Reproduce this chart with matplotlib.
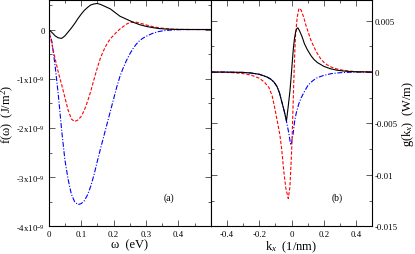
import matplotlib
matplotlib.use("Agg")
import matplotlib.pyplot as plt
from matplotlib.ticker import MultipleLocator, FixedLocator, FixedFormatter

plt.rcParams['font.family'] = ['Liberation Serif', 'DejaVu Serif']
plt.rcParams['mathtext.fontset'] = 'custom'
plt.rcParams['mathtext.rm'] = 'Liberation Serif'
plt.rcParams['mathtext.it'] = 'Liberation Serif:italic'
plt.rcParams['axes.unicode_minus'] = False

# ---- panel (a): f(omega), units 1e-9 J/m^2 ----
w_black = [0, 0.01, 0.02, 0.03, 0.04, 0.05, 0.06, 0.07, 0.08, 0.09, 0.10, 0.11, 0.12, 0.13,
           0.14, 0.15, 0.16, 0.17, 0.18, 0.19, 0.20, 0.21, 0.22, 0.23, 0.24, 0.25, 0.26,
           0.28, 0.30, 0.32, 0.34, 0.36, 0.38, 0.40, 0.45, 0.50]
f_black = [0, -0.06, -0.13, -0.17, -0.18, -0.13, -0.05, 0.03, 0.12, 0.22, 0.31, 0.39, 0.45, 0.50,
           0.52, 0.53, 0.51, 0.48, 0.45, 0.42, 0.37, 0.32, 0.27, 0.24, 0.21, 0.18, 0.15,
           0.10, 0.065, 0.04, 0.02, 0.01, 0.005, 0.002, 0, 0]

w_red = [0, 0.01, 0.02, 0.03, 0.04, 0.05, 0.06, 0.07, 0.08, 0.09, 0.10, 0.11, 0.12, 0.13,
         0.14, 0.15, 0.16, 0.17, 0.18, 0.19, 0.20, 0.21, 0.22, 0.23, 0.24, 0.25, 0.26, 0.27,
         0.28, 0.29, 0.30, 0.32, 0.34, 0.36, 0.38, 0.40, 0.45, 0.50]
f_red = [0, -0.30, -0.60, -0.88, -1.12, -1.38, -1.64, -1.82, -1.87, -1.84, -1.77, -1.64, -1.46, -1.25,
         -1.01, -0.78, -0.57, -0.42, -0.29, -0.19, -0.12, -0.05, 0.01, 0.06, 0.11, 0.14, 0.15, 0.15,
         0.13, 0.115, 0.095, 0.06, 0.035, 0.02, 0.008, 0.003, 0, 0]

w_blue = [0, 0.01, 0.02, 0.03, 0.04, 0.05, 0.06, 0.07, 0.08, 0.09, 0.10, 0.11, 0.12, 0.13,
          0.14, 0.15, 0.16, 0.17, 0.18, 0.19, 0.20, 0.21, 0.22, 0.23, 0.24, 0.25, 0.26, 0.27,
          0.28, 0.29, 0.30, 0.32, 0.34, 0.36, 0.38, 0.40, 0.45, 0.50]
f_blue = [0, -0.25, -0.75, -1.35, -2.05, -2.65, -3.05, -3.35, -3.50, -3.56, -3.54, -3.48, -3.36, -3.18,
          -2.95, -2.68, -2.42, -2.17, -1.92, -1.67, -1.42, -1.17, -0.95, -0.78, -0.63, -0.50, -0.39, -0.30,
          -0.23, -0.18, -0.14, -0.08, -0.04, -0.02, -0.01, -0.004, 0, 0]

# ---- panel (b): g(kx), units 1e-3 W/m ----
k_black = [-0.5, -0.4, -0.3, -0.25, -0.2, -0.17, -0.15, -0.13, -0.11, -0.09, -0.075, -0.065, -0.055,
           -0.045, -0.037, -0.031, -0.02, -0.01, -0.005, 0.0, 0.005, 0.011, 0.018, 0.025, 0.032,
           0.039, 0.05, 0.066, 0.08, 0.097, 0.12, 0.138, 0.16, 0.2, 0.24, 0.28, 0.32, 0.36, 0.4, 0.5]
g_black = [0, -0.01, -0.04, -0.1, -0.22, -0.38, -0.5, -0.68, -0.95, -1.4, -2.0, -2.6, -3.2,
           -3.8, -4.35, -4.75, -3.3, -1.9, -1.0, 0.0, 1.0, 2.2, 3.2, 3.85, 4.2,
           4.3, 4.0, 3.4, 2.75, 2.2, 1.6, 1.23, 0.92, 0.55, 0.32, 0.18, 0.1, 0.05, 0.02, 0]

k_red = [-0.5, -0.4, -0.35, -0.3, -0.25, -0.2, -0.17, -0.14, -0.12, -0.105, -0.09, -0.072, -0.06,
         -0.048, -0.035, -0.02, -0.01, 0.0, 0.005, 0.014, 0.02, 0.025, 0.035, 0.045, 0.05, 0.06,
         0.076, 0.09, 0.105, 0.12, 0.14, 0.16, 0.18, 0.2, 0.22, 0.25, 0.28, 0.3, 0.35, 0.4, 0.5]
g_red = [0, -0.04, -0.08, -0.15, -0.3, -0.6, -0.95, -1.5, -2.3, -3.4, -4.6, -6.1, -7.6,
         -9.6, -11.3, -12.3, -11.2, -8.0, -5.8, -1.0, 1.8, 3.6, 5.3, 6.1, 6.2, 6.0,
         5.3, 4.5, 3.8, 3.1, 2.4, 1.8, 1.3, 0.95, 0.7, 0.45, 0.3, 0.22, 0.1, 0.04, 0]

k_blue = [-0.5, -0.4, -0.3, -0.25, -0.2, -0.17, -0.15, -0.13, -0.11, -0.09, -0.075, -0.065, -0.055,
          -0.045, -0.037, -0.031, -0.025, -0.017, -0.01, -0.005, 0.0, 0.01, 0.02, 0.03, 0.045,
          0.06, 0.08, 0.1, 0.12, 0.14, 0.16, 0.19, 0.22, 0.25, 0.3, 0.35, 0.4, 0.5]
g_blue = [0, -0.01, -0.04, -0.1, -0.22, -0.38, -0.5, -0.68, -0.95, -1.4, -2.0, -2.6, -3.2,
          -3.8, -4.35, -4.8, -5.3, -5.9, -6.6, -7.1, -6.9, -6.0, -4.7, -3.95, -3.1,
          -2.5, -1.9, -1.35, -1.0, -0.75, -0.55, -0.38, -0.25, -0.15, -0.07, -0.03, -0.01, 0]

a_yticks = [0, -1, -2, -3, -4]
a_ylabels = ["0", "-1x10$^{-9}$", "-2x10$^{-9}$", "-3x10$^{-9}$", "-4x10$^{-9}$"]
a_xticks = [0, 0.1, 0.2, 0.3, 0.4]
a_xlabels = ["0", "0.1", "0.2", "0.3", "0.4"]
b_xticks = [-0.4, -0.2, 0, 0.2, 0.4]
b_xlabels = ["-0.4", "-0.2", "0", "0.2", "0.4"]
b_yticks = [0.005, 0, -0.005, -0.01, -0.015]
b_ylabels = ["0.005", "0", "-0.005", "-0.01", "-0.015"]

W, H = 415, 255
fig = plt.figure(figsize=(W / 100, H / 100), dpi=100)
ax1 = fig.add_axes([48.7 / W, (H - 227.3) / H, 162 / W, 226.3 / H])
ax2 = fig.add_axes([210.7 / W, (H - 227.3) / H, 161.6 / W, 226.3 / H])

lw = 0.8
kw_red = dict(color='#ff0000', lw=lw, dashes=(3.0, 1.6))
kw_blue = dict(color='#0000ff', lw=lw, dashes=(4.5, 1.5, 1.0, 1.5))

ax1.plot(w_blue, [v * 1e-9 for v in f_blue], **kw_blue)
ax1.plot(w_red, [v * 1e-9 for v in f_red], **kw_red)
ax1.plot(w_black, [v * 1e-9 for v in f_black], color='black', lw=lw)

ax2.plot(k_blue, [v * 1e-3 for v in g_blue], **kw_blue)
ax2.plot(k_red, [v * 1e-3 for v in g_red], **kw_red)
ax2.plot(k_black, [v * 1e-3 for v in g_black], color='black', lw=lw)

tick_fs = 6.3
lab_fs = 9

ax1.set_xlim(0, 0.5)
ax1.set_ylim(-4e-9, 0.6e-9)
ax1.xaxis.set_major_locator(FixedLocator(a_xticks))
ax1.xaxis.set_major_formatter(FixedFormatter(a_xlabels))
ax1.xaxis.set_minor_locator(MultipleLocator(0.05))
ax1.yaxis.set_major_locator(FixedLocator([v * 1e-9 for v in a_yticks]))
ax1.yaxis.set_major_formatter(FixedFormatter(a_ylabels))
ax1.yaxis.set_minor_locator(MultipleLocator(0.5e-9))
ax1.yaxis.get_offset_text().set_visible(False)

ax2.set_xlim(-0.5, 0.5)
ax2.set_ylim(-0.015, 0.007)
ax2.xaxis.set_major_locator(FixedLocator(b_xticks))
ax2.xaxis.set_major_formatter(FixedFormatter(b_xlabels))
ax2.xaxis.set_minor_locator(MultipleLocator(0.1))
ax2.yaxis.set_major_locator(FixedLocator(b_yticks))
ax2.yaxis.set_major_formatter(FixedFormatter(b_ylabels))
ax2.yaxis.set_minor_locator(MultipleLocator(0.0025))

for ax in (ax1, ax2):
    ax.tick_params(which='both', direction='in', top=True, right=True, bottom=True, left=True,
                   labelsize=tick_fs, width=0.6, color='#444444')
    ax.tick_params(which='major', length=4.5, pad=2.5)
    ax.tick_params(which='minor', length=2.5)
    for s in ax.spines.values():
        s.set_linewidth(0.8)

ax2.tick_params(axis='y', which='both', labelleft=False, labelright=True, pad=1.5)
ax2.yaxis.set_label_position('right')

ax1.set_xlabel("ω  (eV)", fontsize=lab_fs, labelpad=0.5)
ax1.set_ylabel("f(ω)  (J/m$^2$)", fontsize=lab_fs)
ax1.yaxis.set_label_coords((16.5 - 48.7) / 162, 0.5)
ax2.set_xlabel("k$_x$  (1/nm)", fontsize=lab_fs, labelpad=0.5)
ax2.set_ylabel("g(k$_x$)  (W/m)", fontsize=lab_fs, labelpad=1.5)

ax1.text(0.37, -3.41e-9, "(a)", fontsize=7, ha='center', va='center')
ax2.text(0.28, -0.0122, "(b)", fontsize=7, ha='center', va='center')

fig.savefig("out.png", dpi=100)
